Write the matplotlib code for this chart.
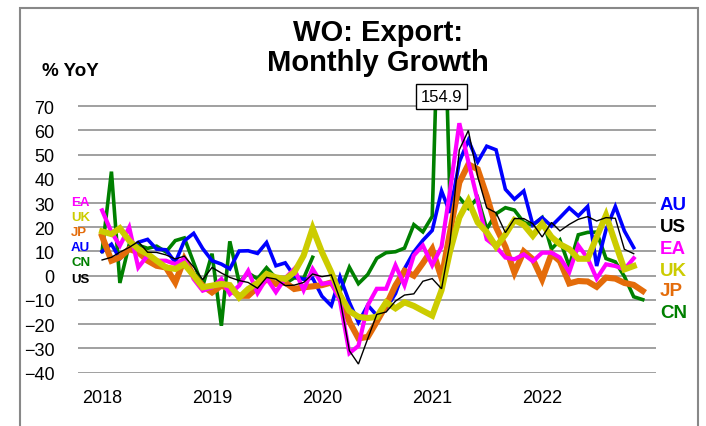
import matplotlib.pyplot as plt
import numpy as np
import pandas as pd
from matplotlib.patches import Rectangle

nan = np.nan
months = pd.date_range("2018-01-01", periods=60, freq="MS")
years = [2018, 2019, 2020, 2021, 2022]

# % YoY, Jan 2018 .. Dec 2022
au = [10, 13, 7, 11, 13.8, 15, 11, 10.7, 5.5, 14.4, 17.5, 11.2,
      6.2, 4.8, 2.8, 10.2, 10.3, 9.2, 13.7, 4.1, 5.3, -0.2, -1.5, -1.0,
      -8.5, -12.4, -0.5, -11, -19.3, -12.2, -16.4, -13.6, -7.4, 2.9, 9.8, 14.6,
      18.7, 35, 26, 47, 56, 47, 53.5, 52, 35.7, 31.6, 35, 21,
      24, 20.5, 24, 28, 24.7, 28.6, 4, 19, 28.6, 18.5, 11.6, nan]
us = [6.5, 7.6, 9.7, 11.7, 14.1, 9.7, 9.6, 8.6, 6.9, 8.1, 3.6, -1.6,
      3.4, 1.1, -0.7, -2.0, -2.8, -5.2, -0.7, -1.4, -4.1, -3.9, -2.8, 0.7,
      -0.4, 0.3, -9.7, -31, -36.5, -26, -16, -15, -10.5, -8, -7.5, -2.3,
      -1.2, -5.4, 13.7, 52, 60, 41, 28, 26, 17.8, 23.6, 23.6, 21.5,
      16, 22, 18.5, 21.2, 23.3, 24.4, 22.6, 24, 23.7, 10.9, 9.1, nan]
ea = [27, 18, 12.4, 20, 3.4, 8.3, 6.2, 6.2, 4.8, 7, -1.4, -6.2,
      -4.8, -1.4, -7.6, -4.1, 2, -7.2, -1, -6.8, -1, 2.8, -6, 2.8,
      -3.4, -2.8, -10.5, -32, -29, -12.2, -5.4, -5.4, 4.3, -4, 8.4, 12.5,
      4.3, 12, 35, 63, 47, 31, 15, 12, 7.5, 6.8, 8.8, 6,
      9.5, 9.5, 7.5, 1.5, 12.5, 7.2, -1.2, 4.7, 4, 2.6, 7.2, nan]
uk = [18.3, 17.2, 19.6, 14.5, 11, 9, 6.2, 3.4, 2.8, 4.8, 0, -4.8,
      -4.1, -3.4, -3.9, -9, -5.5, -3, 0.7, -0.7, -1.4, 1.4, 8.3, 19.6,
      9.7, 1.4, -8, -14.6, -17, -17.5, -17, -11, -13.5, -11, -12.5, -14.5,
      -16.5, -6, 10, 24, 31, 22, 18, 12, 17, 23, 21, 16.5,
      21.5, 16, 13, 11, 7, 7, 16, 25, 13.5, 2.6, 4, nan]
jp = [16.3, 6.2, 7.6, 11, 9.7, 6.2, 4.1, 3.4, -2.8, 6.9, 0, -4.1,
      -6.9, -4.1, -5.5, -8.3, -8.3, -4.8, -1.4, -3.4, -2.8, -5.5, -4.8, -4.4,
      -3.9, -2.8, -8.1, -19, -25.9, -25.3, -19, -12.2, -4, 2, 0, 5.2,
      11, -1, 18, 38.5, 46, 44, 33, 20, 12, 1.3, 10, 6.8,
      -1.5, 9, 6, -3.2, -2.2, -2.4, -4.6, -0.8, -1.2, -3, -3.8, -6.3]
cn = [10, 43, -3, 12.9, 12.6, 11.3, 12.2, 9.8, 14.5, 15.6, 5.4, -4.4,
      9.1, -20.7, 14.2, -2.7, 1.1, -1.3, 3.3, -1.0, -3.2, -0.9, -1.1, 7.6,
      nan, nan, -6.6, 3.5, -3.3, 0.5, 7.2, 9.5, 9.9, 11.4, 21.1, 18.1,
      24.5, 154.9, 30.6, 32.3, 27.9, 32.2, 19.3, 25.6, 28.1, 27.1, 22.0, 20.9,
      24, 11, 14.7, 3.9, 16.9, 17.9, 18.0, 7.1, 5.7, -0.3, -8.7, -9.9]

names = ["AU", "US", "EA", "UK", "JP", "CN"]
colors = {"AU": "#0000FF", "US": "#000000", "EA": "#FF00FF",
          "UK": "#CCCC00", "JP": "#E46C0A", "CN": "#008000"}
widths = {"AU": 2.6, "US": 1.0, "EA": 3.0, "UK": 4.4, "JP": 4.4, "CN": 2.6}
order = {"CN": 2, "AU": 3, "JP": 4, "EA": 5, "UK": 6, "US": 7}
series = {"AU": au, "US": us, "EA": ea, "UK": uk, "JP": jp, "CN": cn}

plt.rcParams["font.family"] = ["Liberation Sans", "DejaVu Sans"]

W, H = 706, 427
fig = plt.figure(figsize=(W / 100, H / 100), dpi=100)


def fx(x):
    return x / W


def fy(y):
    return 1 - y / H


ax = fig.add_axes([fx(78), fy(373.5), fx(656) - fx(78), (373.5 - 97.6) / H])

for n in names:
    ax.plot(months, series[n], color=colors[n], lw=widths[n], zorder=order[n],
            solid_joinstyle="miter")

ax.set_ylim(-40, 74)
ax.set_xlim(pd.Timestamp("2017-10-13"), pd.Timestamp("2023-01-14"))
ax.set_yticks(range(-40, 71, 10))
ax.yaxis.grid(True, color="#999999", lw=1.3)
ax.set_axisbelow(True)
ax.set_xticks([pd.Timestamp(f"{y}-01-01") for y in years])
ax.set_xticklabels([str(y) for y in years])
ax.tick_params(length=0, labelsize=13, pad=17)
ax.tick_params(axis="x", pad=12)
for s in ax.spines.values():
    s.set_visible(False)

# label for the clipped China spike
imax = int(np.nanargmax(cn))
ax.text(months[imax], 74, f"{cn[imax]:.1f}", ha="center", va="center",
        fontsize=12, zorder=10, clip_on=False,
        bbox=dict(boxstyle="square,pad=0.3", fc="white", ec="black", lw=1))

# frame around the chart
fig.patches.append(Rectangle((fx(20), -0.02), fx(698) - fx(20), fy(9) + 0.02,
                             transform=fig.transFigure, fill=False,
                             ec="#888888", lw=1.5))

fig.text(fx(378), fy(48), "WO: Export:\nMonthly Growth", ha="center",
         va="center", fontsize=21, fontweight="bold", linespacing=1.1)
fig.text(fx(42), fy(71), "% YoY", ha="left", va="center", fontsize=13.5,
         fontweight="bold")

right = [("AU", 206), ("US", 228), ("EA", 250), ("UK", 271), ("JP", 292),
         ("CN", 314)]
for n, y in right:
    fig.text(fx(660), fy(y), n, color=colors[n], ha="left", va="center",
             fontsize=13.5, fontweight="bold")

left = [("EA", 203), ("UK", 218), ("JP", 233), ("AU", 248), ("CN", 263),
        ("US", 280)]
for n, y in left:
    fig.text(fx(71), fy(y), n, color=colors[n], ha="left", va="center",
             fontsize=9.5, fontweight="bold")

fig.savefig("out.png", dpi=100)
